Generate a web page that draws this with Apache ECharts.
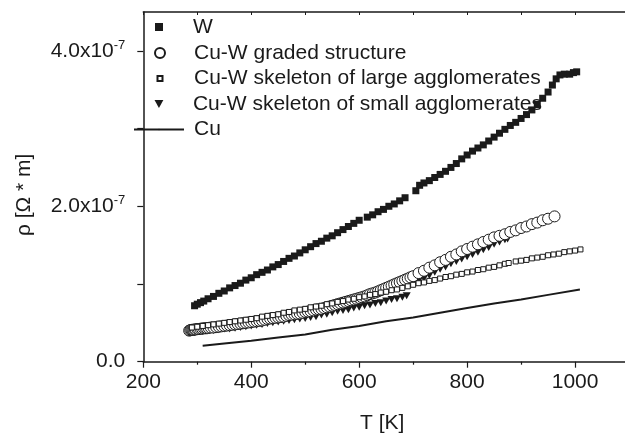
<!DOCTYPE html>
<html><head><meta charset="utf-8">
<script src="https://cdn.jsdelivr.net/npm/echarts@6/dist/echarts.min.js"></script>
<style>html,body{margin:0;padding:0;background:#fff}#c{width:625px;height:435px}</style>
</head><body><div id="c"></div>
<script>
// Series names (legend order)
const names = ['W', 'Cu-W graded structure', 'Cu-W skeleton of large agglomerates', 'Cu-W skeleton of small agglomerates', 'Cu'];
// Values of rho in units of 1e-7 Ohm*m, T in K
const wT   = [295,300,306,312,320,330,340,350,360,370,380,390,400,410,420,430,440,450,460,470,480,490,500,510,520,530,540,550,560,570,580,590,600,615,625,635,645,655,665,675,685,705,712,720,730,740,750,760,770,780,790,800,810,820,830,840,850,860,870,880,890,900,910,920,930,940,950,958,965,972,980,990,997,1003];
const wRho = [0.72,0.74,0.76,0.78,0.81,0.84,0.88,0.91,0.95,0.98,1.01,1.05,1.08,1.12,1.15,1.18,1.22,1.25,1.29,1.33,1.36,1.40,1.44,1.48,1.52,1.55,1.59,1.62,1.66,1.70,1.74,1.78,1.82,1.86,1.89,1.93,1.96,2.00,2.03,2.07,2.11,2.20,2.27,2.30,2.33,2.37,2.41,2.45,2.50,2.55,2.61,2.66,2.71,2.75,2.79,2.84,2.89,2.94,2.99,3.04,3.08,3.13,3.18,3.24,3.31,3.39,3.47,3.56,3.64,3.69,3.70,3.70,3.72,3.73];

const gT   = [285,287,289,291,293,295,297,300,303,306,309,312,315,318,321,325,330,335,340,345,350,355,360,365,370,375,380,385,390,395,400,405,410,415,420,425,430,435,440,445,450,455,460,465,470,475,480,485,490,495,500,505,510,515,520,525,530,535,540,545,550,555,560,565,570,575,580,585,590,595,600,605,610,615,620,625,630,635,640,645,650,655,660,665,670,675,680,685,690,695,700,710,720,730,740,750,760,770,780,790,800,810,820,830,840,850,860,870,880,890,900,910,920,930,940,950,962];
const gRho = [0.40,0.405,0.41,0.41,0.41,0.415,0.415,0.42,0.42,0.425,0.425,0.43,0.43,0.43,0.435,0.44,0.44,0.445,0.45,0.455,0.46,0.465,0.47,0.475,0.48,0.485,0.49,0.495,0.50,0.505,0.51,0.515,0.52,0.525,0.53,0.54,0.55,0.555,0.56,0.565,0.57,0.575,0.58,0.59,0.60,0.605,0.61,0.615,0.62,0.63,0.64,0.645,0.65,0.66,0.67,0.675,0.68,0.69,0.70,0.71,0.72,0.73,0.74,0.75,0.76,0.77,0.78,0.79,0.80,0.81,0.82,0.83,0.84,0.855,0.87,0.88,0.89,0.905,0.92,0.935,0.95,0.965,0.98,0.995,1.01,1.025,1.04,1.055,1.07,1.085,1.10,1.14,1.17,1.21,1.24,1.28,1.31,1.35,1.38,1.42,1.45,1.48,1.51,1.54,1.57,1.60,1.62,1.64,1.67,1.69,1.72,1.74,1.77,1.79,1.82,1.84,1.87];

const lT   = [290,300,310,320,330,340,350,360,370,380,390,400,410,420,430,440,450,460,470,480,490,500,510,520,530,540,550,560,570,580,590,600,610,620,630,640,650,660,670,680,690,700,710,720,730,740,750,760,770,780,790,800,810,820,830,840,850,860,870,877,890,900,910,920,930,940,950,960,970,980,990,1000,1010];
const lRho = [0.44,0.45,0.46,0.47,0.48,0.49,0.50,0.51,0.52,0.53,0.54,0.55,0.56,0.58,0.59,0.60,0.61,0.63,0.64,0.66,0.67,0.68,0.70,0.71,0.72,0.74,0.75,0.77,0.78,0.80,0.81,0.83,0.84,0.86,0.87,0.89,0.90,0.92,0.93,0.95,0.97,0.99,1.01,1.02,1.04,1.05,1.07,1.09,1.10,1.12,1.13,1.15,1.16,1.18,1.19,1.21,1.22,1.24,1.26,1.27,1.29,1.30,1.31,1.33,1.34,1.35,1.37,1.38,1.39,1.41,1.42,1.43,1.445];

const sT   = [290,295,300,305,310,320,330,340,350,360,370,380,390,400,410,420,430,440,450,460,470,480,490,500,510,520,530,540,550,560,570,580,590,600,610,620,630,640,650,660,670,680,688,694,700,710,720,730,740,750,760,770,780,790,800,810,820,830,840,850,860,870,875];
const sRho = [0.38,0.38,0.385,0.39,0.39,0.40,0.40,0.41,0.42,0.42,0.43,0.44,0.45,0.46,0.47,0.48,0.49,0.50,0.51,0.52,0.53,0.54,0.55,0.555,0.57,0.58,0.60,0.61,0.63,0.65,0.66,0.67,0.69,0.70,0.72,0.73,0.75,0.76,0.78,0.80,0.81,0.83,0.85,0.98,1.00,1.04,1.07,1.11,1.15,1.19,1.22,1.26,1.29,1.32,1.35,1.38,1.41,1.44,1.47,1.51,1.54,1.57,1.58];

const cuT   = [310,350,400,450,500,550,600,650,700,750,800,850,900,950,1009];
const cuRho = [0.205,0.235,0.27,0.31,0.35,0.41,0.46,0.52,0.57,0.63,0.69,0.75,0.80,0.86,0.93];

const yTicks = [0,1,2,3,4];
const yLabels = [0,2,4];

const zip = (a,b) => a.map((v,i)=>[v,b[i]]);
const FONT = 'Liberation Sans, Arial, Helvetica, sans-serif';
const INK = '#1a1a1a';
const triDown = 'path://M0,0 L10,0 L5,9 Z';

const chart = echarts.init(document.getElementById('c'), null, {renderer:'canvas'});

const legendCenters = [25.5, 51.5, 77, 102.5, 128];
const legendIconW = [8, 10, 5, 9, 50];
const legendIconH = [8, 10, 5, 8, 2];
const iconCenterX = 159;
const textX = 193;
const legends = names.map((n,i)=>{
  const isLine = i===4;
  const left = isLine ? 133 : iconCenterX - legendIconW[i]/2;
  const pad = textX - (left + legendIconW[i] + 5);
  return {
    data:[n], orient:'vertical', left:left, top: legendCenters[i]-9, padding:0,
    itemWidth:legendIconW[i], itemHeight: legendIconH[i], selectedMode:false,
    formatter: name => '{p| }{t|'+name+'}',
    textStyle:{fontSize:21, fontFamily:FONT, color:INK,
      rich:{p:{width:pad, fontSize:21}, t:{fontSize:21, fontFamily:FONT, color:INK}}}
  };
});

chart.setOption({
  animation:false,
  backgroundColor:'#fff',
  legend: legends,
  grid:{left:143.3, right:-58, top:12, bottom:73.3, outerBoundsMode:'none', containLabel:false},
  xAxis:[{
    type:'value', min:200, max:1200, interval:200, position:'bottom',
    name:'T [K]', nameLocation:'middle', nameGap:51,
    nameTextStyle:{fontSize:21, fontFamily:FONT, color:INK, padding:[0,62,0,0]},
    axisLine:{show:true, onZero:false, lineStyle:{color:INK, width:1.5}},
    axisTick:{show:true, length:6, lineStyle:{color:INK, width:1.2}},
    minorTick:{show:true, splitNumber:2, length:3, lineStyle:{color:INK, width:1.2}},
    axisLabel:{fontSize:21, fontFamily:FONT, color:INK, margin:10, formatter: v => String(v)},
    splitLine:{show:false}, minorSplitLine:{show:false}
  },{
    type:'value', min:200, max:1200, interval:100, position:'top',
    axisLine:{show:true, onZero:false, lineStyle:{color:INK, width:1.5}},
    axisTick:{show:true, inside:true, length:3, lineStyle:{color:INK, width:1}},
    axisLabel:{show:false}, splitLine:{show:false}
  }],
  yAxis:{
    type:'value', min:0, max:4.5, interval:1,
    name:'ρ [Ω * m]', nameLocation:'middle', nameGap:109,
    nameTextStyle:{fontSize:21, fontFamily:FONT, color:INK, padding:[0,16,0,0]},
    axisLine:{show:true, onZero:false, lineStyle:{color:INK, width:1.5}},
    axisTick:{show:true, length:6, customValues:yTicks, lineStyle:{color:INK, width:1.2}},
    axisLabel:{
      customValues:yLabels, margin:18, fontFamily:FONT, color:INK,
      formatter:(v)=> v===0 ? '{b|0.0}' : '{b|'+v.toFixed(1)+'x10}{s|-7}',
      rich:{
        b:{fontSize:21, fontFamily:FONT, color:INK, lineHeight:24},
        s:{fontSize:13, fontFamily:FONT, color:INK, verticalAlign:'top', lineHeight:24, padding:[0,0,12,0]}
      }
    },
    splitLine:{show:false}
  },
  series:[
    {name:names[3], type:'scatter', data:zip(sT,sRho), symbol:triDown, symbolSize:[8,7],
     itemStyle:{color:INK, opacity:1}, z:2},
    {name:names[1], type:'scatter', data:zip(gT,gRho), symbol:'circle', symbolSize:11,
     itemStyle:{color:'#fff', borderColor:INK, borderWidth:1, opacity:1}, z:3},
    {name:names[2], type:'scatter', data:zip(lT,lRho), symbol:'rect', symbolSize:5,
     itemStyle:{color:'#fff', borderColor:INK, borderWidth:1, opacity:1}, z:4},
    {name:names[0], type:'scatter', data:zip(wT,wRho), symbol:'rect', symbolSize:7,
     itemStyle:{color:INK, opacity:1}, z:5},
    {name:names[4], type:'line', data:zip(cuT,cuRho), showSymbol:false, symbol:'none',
     lineStyle:{color:INK, width:2}, itemStyle:{color:INK}, z:6}
  ]
});
</script></body></html>
